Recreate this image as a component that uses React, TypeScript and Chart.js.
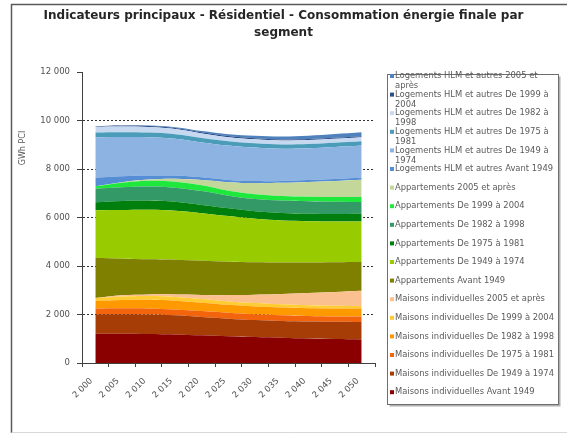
import React, { useEffect, useRef } from "react";
import { Chart, registerables } from "chart.js";

Chart.register(...registerables);

const years = [2000, 2005, 2010, 2015, 2020, 2025, 2030, 2035, 2040, 2045, 2050];
const yTicks = [0, 2000, 4000, 6000, 8000, 10000, 12000];

const titleLines = [
  "Indicateurs principaux - Résidentiel - Consommation énergie finale par",
  "segment",
];
const yTitle = "GWh PCI";

const seriesNames = [
  "Maisons individuelles Avant 1949",
  "Maisons individuelles De 1949 à 1974",
  "Maisons individuelles De 1975 à 1981",
  "Maisons individuelles De 1982 à 1998",
  "Maisons individuelles De 1999 à 2004",
  "Maisons individuelles 2005 et après",
  "Appartements Avant 1949",
  "Appartements De 1949 à 1974",
  "Appartements De 1975 à 1981",
  "Appartements De 1982 à 1998",
  "Appartements De 1999 à 2004",
  "Appartements 2005 et après",
  "Logements HLM et autres Avant 1949",
  "Logements HLM et autres De 1949 à 1974",
  "Logements HLM et autres De 1975 à 1981",
  "Logements HLM et autres De 1982 à 1998",
  "Logements HLM et autres De 1999 à 2004",
  "Logements HLM et autres 2005 et après",
];

const maisonsAvant1949 = [1210, 1210, 1200, 1180, 1140, 1100, 1070, 1040, 1010, 990, 970];
const maisons1949_1974 = [800, 800, 800, 790, 760, 730, 700, 690, 700, 710, 720];
const maisons1975_1981 = [240, 250, 250, 240, 240, 240, 240, 240, 230, 220, 230];
const maisons1982_1998 = [310, 340, 360, 360, 350, 330, 320, 320, 320, 330, 330];
const maisons1999_2004 = [120, 140, 150, 150, 150, 140, 140, 130, 120, 110, 100];
const maisons2005 = [0, 50, 70, 110, 170, 260, 350, 430, 510, 570, 630];
const appAvant1949 = [1660, 1510, 1450, 1430, 1410, 1380, 1340, 1300, 1260, 1230, 1190];
const app1949_1974 = [1960, 2010, 2040, 2020, 1960, 1880, 1790, 1730, 1700, 1680, 1670];
const app1975_1981 = [330, 370, 380, 370, 340, 320, 310, 310, 310, 310, 320];
const app1982_1998 = [560, 570, 580, 580, 570, 520, 500, 510, 510, 500, 480];
const app1999_2004 = [100, 190, 240, 250, 240, 200, 200, 190, 190, 200, 210];
const app2005 = [0, 20, 50, 120, 220, 360, 460, 540, 610, 660, 710];
const hlmAvant1949 = [350, 240, 160, 130, 110, 90, 85, 80, 80, 80, 80];
const hlm1949_1974 = [1670, 1620, 1580, 1520, 1440, 1420, 1380, 1330, 1310, 1320, 1330];
const hlm1975_1981 = [200, 200, 195, 190, 185, 180, 180, 175, 175, 175, 175];
const hlm1982_1998 = [235, 235, 230, 210, 185, 165, 160, 160, 160, 160, 165];
const hlm1999_2004 = [20, 40, 45, 45, 45, 45, 45, 45, 42, 42, 40];
const hlm2005 = [0, 5, 15, 30, 50, 80, 100, 120, 140, 160, 170];

const seriesValues = [
  maisonsAvant1949, maisons1949_1974, maisons1975_1981, maisons1982_1998, maisons1999_2004, maisons2005,
  appAvant1949, app1949_1974, app1975_1981, app1982_1998, app1999_2004, app2005,
  hlmAvant1949, hlm1949_1974, hlm1975_1981, hlm1982_1998, hlm1999_2004, hlm2005,
];

const seriesColors = [
  "#8A0000", "#A63C06", "#F3650C", "#FF9900", "#FFCC33", "#FAC090",
  "#808000", "#99CC00", "#007F0E", "#339966", "#1EE83C", "#C4D79B",
  "#558ED5", "#8DB3E2", "#4A9CB8", "#C6D9F1", "#2C4D8A", "#4F81BD",
];

const fmt = (v: number) => {
  const s = String(Math.round(v));
  return s.length > 3 ? s.slice(0, s.length - 3) + "\u00a0" + s.slice(s.length - 3) : s;
};

const FONT = '"DejaVu Sans", Verdana, sans-serif';

const framePlugin = {
  id: "frame",
  beforeDraw(chart: any) {
    const ctx = chart.ctx;
    ctx.save();
    ctx.fillStyle = "#ffffff";
    ctx.fillRect(0, 0, chart.width, chart.height);
    ctx.strokeStyle = "#5a5a5a";
    ctx.lineWidth = 1.5;
    ctx.beginPath();
    ctx.moveTo(11.5, 433);
    ctx.lineTo(11.5, 4.5);
    ctx.lineTo(chart.width + 2, 4.5);
    ctx.stroke();
    ctx.strokeStyle = "#d8d8d8";
    ctx.lineWidth = 1;
    ctx.beginPath();
    ctx.moveTo(11.5, 432.5);
    ctx.lineTo(chart.width + 2, 432.5);
    ctx.stroke();
    ctx.restore();
  },
  afterDraw(chart: any) {
    const ctx = chart.ctx;
    ctx.save();
    ctx.translate(23, 148);
    ctx.rotate(-Math.PI / 2);
    ctx.fillStyle = "#555555";
    ctx.font = "8px " + FONT;
    ctx.textAlign = "center";
    ctx.textBaseline = "middle";
    ctx.fillText(yTitle, 0, 0);
    ctx.restore();
  },
};

const legendPlugin = {
  id: "boxLegend",
  afterDraw(chart: any) {
    const ctx = chart.ctx;
    const x0 = 387.5, y0 = 74.5, w = 171, h = 330;
    ctx.save();
    ctx.strokeStyle = "#b0b0b0";
    ctx.lineWidth = 2;
    ctx.beginPath();
    ctx.moveTo(x0 + w + 1, y0 + 2);
    ctx.lineTo(x0 + w + 1, y0 + h + 1);
    ctx.lineTo(x0 + 2, y0 + h + 1);
    ctx.stroke();
    ctx.fillStyle = "#ffffff";
    ctx.fillRect(x0, y0, w, h);
    ctx.strokeStyle = "#6e6e6e";
    ctx.lineWidth = 1;
    ctx.strokeRect(x0, y0, w, h);

    const items = chart.data.datasets.map((d: any) => ({ text: d.label, color: d.backgroundColor })).reverse();
    ctx.font = "8.4px " + FONT;
    ctx.textBaseline = "middle";
    ctx.textAlign = "left";
    const maxW = 163;
    items.forEach((it: any, i: number) => {
      const y = 76 + i * 18.6;
      ctx.fillStyle = it.color;
      ctx.fillRect(390, y - 2, 4, 4);
      const words = it.text.split(" ");
      const lines: string[] = [];
      let cur = "";
      words.forEach((wd: string) => {
        const t = cur ? cur + " " + wd : wd;
        if (ctx.measureText(t).width > maxW && cur) {
          lines.push(cur);
          cur = wd;
        } else cur = t;
      });
      if (cur) lines.push(cur);
      ctx.fillStyle = "#5a5a5a";
      lines.forEach((ln, k) => ctx.fillText(ln, 395, y + k * 10));
    });
    ctx.restore();
  },
};

export default function App() {
  const ref = useRef<HTMLCanvasElement | null>(null);
  useEffect(() => {
    document.body.style.margin = "0";
    if (!ref.current) return;
    Chart.defaults.font.family = FONT;
    const chart = new Chart(ref.current, {
      type: "line",
      data: {
        labels: years.map(fmt),
        datasets: seriesValues.map((vals, i) => ({
          label: seriesNames[i],
          data: vals,
          backgroundColor: seriesColors[i],
          borderColor: seriesColors[i],
          borderWidth: 0,
          pointRadius: 0,
          fill: i === 0 ? "origin" : "-1",
          tension: 0.35,
          yAxisID: "y",
        })),
      },
      options: {
        responsive: false,
        animation: false,
        layout: { padding: 0 },
        plugins: {
          legend: { display: false },
          tooltip: { enabled: false },
          title: {
            display: true,
            text: titleLines,
            color: "#262626",
            font: { size: 12, weight: "bold", family: FONT, lineHeight: 1.42 },
            padding: { top: 7.5, bottom: 30.5 },
          },
        },
        scales: {
          x: {
            type: "category",
            offset: true,
            grid: {
              display: true,
              drawOnChartArea: false,
              drawTicks: true,
              tickLength: 4,
              offset: true,
              tickColor: "#404040",
            },
            border: { display: true, color: "#404040", width: 1 },
            ticks: {
              minRotation: 45,
              maxRotation: 45,
              autoSkip: false,
              color: "#505050",
              font: { size: 8.5 },
              padding: 9,
              labelOffset: -4,
            },
            afterFit: (s: any) => {
              s.height = 73;
            },
          },
          y: {
            stacked: true,
            min: 0,
            max: 12000,
            afterBuildTicks: (s: any) => {
              s.ticks = yTicks.map((v) => ({ value: v }));
            },
            grid: {
              color: (c: any) =>
                c.tick && (c.tick.value === 12000 || c.tick.value === 0) ? "rgba(0,0,0,0)" : "#333333",
              tickColor: "#404040",
              tickLength: 5,
              lineWidth: 1,
            },
            border: { display: true, color: "#404040", width: 1, dash: [2, 2] },
            ticks: {
              color: "#505050",
              font: { size: 8.5 },
              padding: 7,
              callback: (v: any) => fmt(Number(v)),
            },
            afterFit: (s: any) => {
              s.width = 82;
            },
          },
          yRight: {
            position: "right",
            display: true,
            min: 0,
            max: 1,
            grid: { display: false, drawTicks: false },
            border: { display: false },
            ticks: { display: false },
            afterFit: (s: any) => {
              s.width = 192;
            },
          },
        },
      },
      plugins: [framePlugin, legendPlugin],
    });
    return () => chart.destroy();
  }, []);
  return (
    <div style={{ width: 567, height: 436 }}>
      <canvas ref={ref} width={567} height={436} />
    </div>
  );
}
